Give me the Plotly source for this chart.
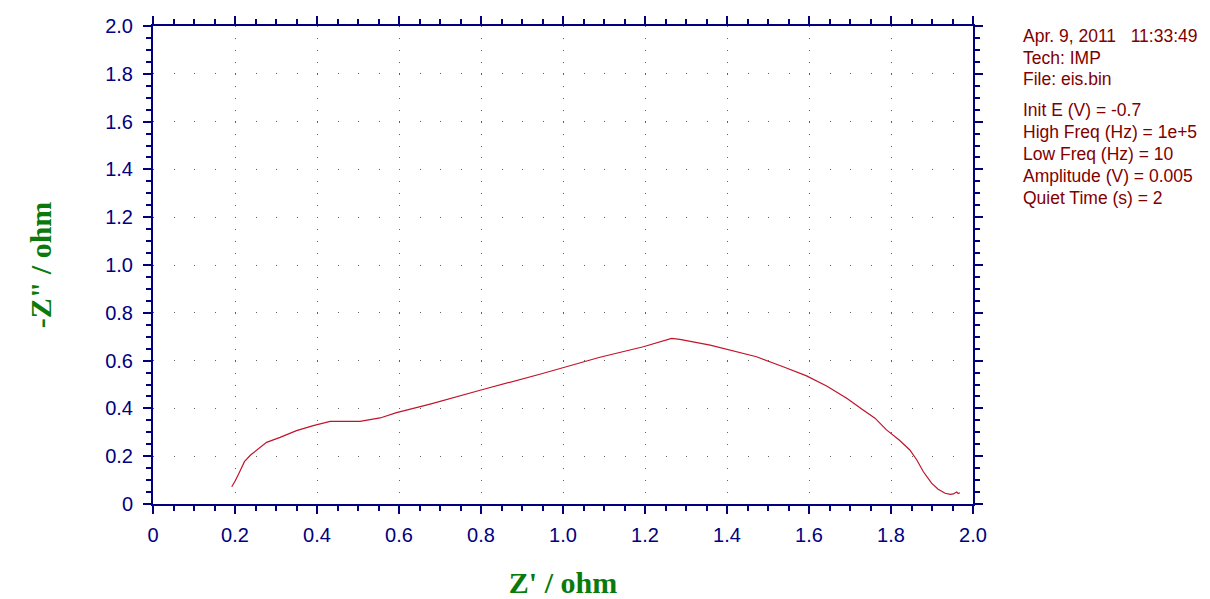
import plotly.graph_objects as go

# Nyquist data (Z' and -Z'' in ohm)
z_real = [0.192, 0.200, 0.210, 0.223, 0.238, 0.253, 0.277, 0.310, 0.350, 0.391, 0.432,
          0.505, 0.554, 0.594, 0.676, 0.800, 0.950, 1.090, 1.196, 1.265, 1.285,
          1.359, 1.415, 1.472, 1.537, 1.594, 1.643, 1.692, 1.732, 1.761, 1.789,
          1.820, 1.846, 1.863, 1.879, 1.899, 1.915, 1.932, 1.945, 1.952, 1.960,
          1.964, 1.968]
z_imag = [0.072, 0.095, 0.130, 0.177, 0.205, 0.226, 0.258, 0.279, 0.307, 0.328, 0.346,
          0.346, 0.360, 0.382, 0.418, 0.477, 0.546, 0.614, 0.658, 0.693, 0.689,
          0.665, 0.642, 0.616, 0.574, 0.536, 0.494, 0.442, 0.393, 0.359, 0.310,
          0.268, 0.226, 0.184, 0.135, 0.087, 0.062, 0.045, 0.040, 0.042, 0.050,
          0.044, 0.047]

tick_vals = [0, 0.2, 0.4, 0.6, 0.8, 1.0, 1.2, 1.4, 1.6, 1.8, 2.0]
tick_text = ["0", "0.2", "0.4", "0.6", "0.8", "1.0", "1.2", "1.4", "1.6", "1.8", "2.0"]

info_lines = [
    "Apr. 9, 2011   11:33:49",
    "Tech: IMP",
    "File: eis.bin",
    "Init E (V) = -0.7",
    "High Freq (Hz) = 1e+5",
    "Low Freq (Hz) = 10",
    "Amplitude (V) = 0.005",
    "Quiet Time (s) = 2",
]
info_pixel_y = [36, 58, 79, 110, 132, 154, 176, 198]

AXIS_COLOR = "#000080"
TITLE_COLOR = "#0a7a0a"
GRID_COLOR = "#5c6650"
LINE_COLOR = "#c0142a"
INFO_COLOR = "#800000"

# page body has an 8px margin, so the figure is drawn 8px in from the window edge
OFFSET = 8
FIG_W, FIG_H = 1210 - OFFSET, 599 - OFFSET
PLOT_LEFT, PLOT_RIGHT, PLOT_TOP, PLOT_BOTTOM = 153, 973, 26, 504
plot_w = PLOT_RIGHT - PLOT_LEFT
plot_h = PLOT_BOTTOM - PLOT_TOP

fig = go.Figure()
fig.add_trace(
    go.Scatter(
        x=z_real,
        y=z_imag,
        mode="lines",
        line=dict(color=LINE_COLOR, width=1.2),
        showlegend=False,
    )
)

for text, py in zip(info_lines, info_pixel_y):
    fig.add_annotation(
        text=text,
        xref="paper",
        yref="paper",
        x=(1021 - PLOT_LEFT) / plot_w,
        y=(PLOT_BOTTOM - py) / plot_h,
        xanchor="left",
        yanchor="middle",
        showarrow=False,
        font=dict(family="Liberation Sans, Arial", size=17.5, color=INFO_COLOR),
    )

axis_common = dict(
    range=[0, 2],
    automargin=False,
    tickmode="array",
    tickvals=tick_vals,
    ticktext=tick_text,
    showline=True,
    linecolor=AXIS_COLOR,
    linewidth=2,
    mirror="ticks",
    ticks="outside",
    ticklen=8,
    tickwidth=2,
    tickcolor=AXIS_COLOR,
    tickfont=dict(family="Liberation Sans, Arial", size=20, color=AXIS_COLOR),
    showgrid=True,
    gridcolor=GRID_COLOR,
    gridwidth=1,
    zeroline=False,
    minor=dict(dtick=0.05, tick0=0, ticks="outside", ticklen=5, tickwidth=2,
               tickcolor=AXIS_COLOR, showgrid=False),
)

fig.update_xaxes(
    **axis_common,
    griddash="1px,%.2fpx" % (0.05 * plot_h / 2 - 1),
    ticklabelstandoff=4,
    title=dict(text="Z' / ohm", standoff=35,
               font=dict(family="Liberation Serif, Times New Roman", size=30,
                         color=TITLE_COLOR, weight="bold")),
)
fig.update_yaxes(
    **axis_common,
    griddash="1px,%.2fpx" % (0.05 * plot_w / 2 - 1),
    ticklabelstandoff=6,
    title=dict(text="-Z\" / ohm", standoff=45,
               font=dict(family="Liberation Serif, Times New Roman", size=30,
                         color=TITLE_COLOR, weight="bold")),
)

fig.update_layout(
    width=FIG_W,
    height=FIG_H,
    paper_bgcolor="white",
    plot_bgcolor="white",
    margin=dict(l=PLOT_LEFT - OFFSET, r=1210 - PLOT_RIGHT, t=PLOT_TOP - OFFSET,
                b=599 - PLOT_BOTTOM),
)

fig.write_html("out.html")
